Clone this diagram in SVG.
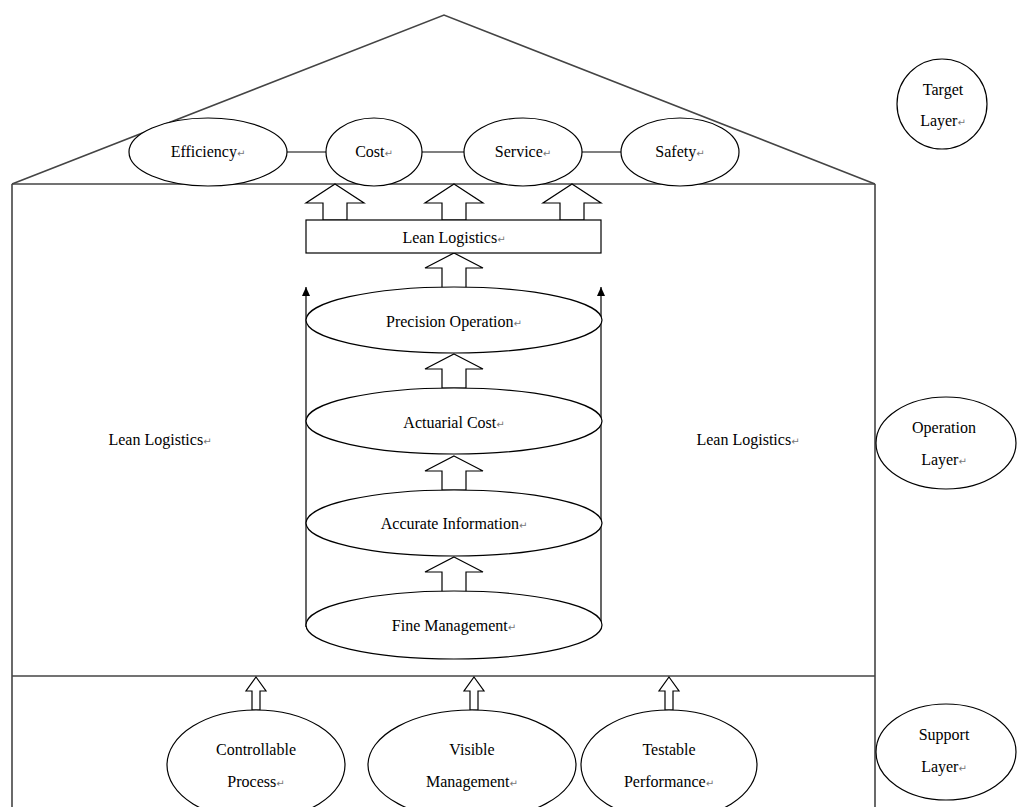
<svg xmlns="http://www.w3.org/2000/svg" width="1017" height="807" viewBox="0 0 1017 807">
<style>
.frame{fill:none;stroke:#444;stroke-width:1.6}
.sh{fill:#fff;stroke:#000;stroke-width:1.2}
.ln{fill:none;stroke:#000;stroke-width:1.2}
.ha{fill:#fff;stroke:#000;stroke-width:1.2;stroke-linejoin:miter}
.t{font-family:'Liberation Serif','DejaVu Serif',serif;font-size:16px;fill:#000;text-anchor:middle}
.r{fill:#777;font-family:'DejaVu Sans',sans-serif;font-size:10px}
</style>
<defs>
<marker id="ah" markerWidth="10" markerHeight="10" refX="9" refY="5" orient="auto" markerUnits="userSpaceOnUse">
<path d="M0,1 L9,5 L0,9 Z" fill="#000"/>
</marker>
</defs>
<rect width="1017" height="807" fill="#fff"/>
<g id="frame">
<polyline class="frame" points="12,184 444,15 875,184"/>
<line class="frame" x1="12" y1="184" x2="875" y2="184"/>
<line class="frame" x1="12" y1="184" x2="12" y2="807"/>
<line class="frame" x1="875" y1="184" x2="875" y2="807"/>
<line class="frame" x1="12" y1="676" x2="875" y2="676"/>
</g>
<g id="connectors">
<line class="ln" x1="287" y1="152" x2="327" y2="152"/>
<line class="ln" x1="422" y1="152" x2="464" y2="152"/>
<line class="ln" x1="582" y1="152" x2="621" y2="152"/>
<path class="ha" d="M335,184 L364,203 L347,203 L347,220 L323,220 L323,203 L306,203 Z"/>
<path class="ha" d="M454,184 L483,203 L466,203 L466,220 L442,220 L442,203 L425,203 Z"/>
<path class="ha" d="M572,184 L601,203 L584,203 L584,220 L560,220 L560,203 L543,203 Z"/>
<path class="ha" d="M454,253 L483,268 L466,268 L466,288 L442,288 L442,268 L425,268 Z"/>
<path class="ha" d="M454,354 L483,369 L466,369 L466,388 L442,388 L442,369 L425,369 Z"/>
<path class="ha" d="M454,456 L483,471 L466,471 L466,490 L442,490 L442,471 L425,471 Z"/>
<path class="ha" d="M454,557 L483,572 L466,572 L466,592 L442,592 L442,572 L425,572 Z"/>
<line class="ln" x1="306" y1="627" x2="306" y2="287" marker-end="url(#ah)"/>
<line class="ln" x1="601" y1="627" x2="601" y2="287" marker-end="url(#ah)"/>
<path class="ha" d="M256,677 L266,691 L260,691 L260,710 L252,710 L252,691 L246,691 Z"/>
<path class="ha" d="M474,677 L484,691 L478,691 L478,710 L470,710 L470,691 L464,691 Z"/>
<path class="ha" d="M669,677 L679,691 L673,691 L673,710 L665,710 L665,691 L659,691 Z"/>
</g>
<g id="efficiency"><ellipse class="sh" cx="208" cy="152" rx="79" ry="34"/><text class="t" x="208" y="157">Efficiency<tspan class="r">↵</tspan></text></g>
<g id="cost"><ellipse class="sh" cx="374" cy="152" rx="48" ry="34"/><text class="t" x="374" y="157">Cost<tspan class="r">↵</tspan></text></g>
<g id="service"><ellipse class="sh" cx="523" cy="152" rx="59" ry="34"/><text class="t" x="523" y="157">Service<tspan class="r">↵</tspan></text></g>
<g id="safety"><ellipse class="sh" cx="680" cy="152" rx="59" ry="34"/><text class="t" x="680" y="157">Safety<tspan class="r">↵</tspan></text></g>
<g id="lean-box"><rect class="sh" x="306" y="220" width="295" height="33"/><text class="t" x="454" y="243">Lean Logistics<tspan class="r">↵</tspan></text></g>
<g id="fine"><ellipse class="sh" cx="454" cy="625" rx="148" ry="34"/><text class="t" x="454" y="631">Fine Management<tspan class="r">↵</tspan></text></g>
<g id="accurate"><ellipse class="sh" cx="454" cy="523" rx="148" ry="33"/><text class="t" x="454" y="529">Accurate Information<tspan class="r">↵</tspan></text></g>
<g id="actuarial"><ellipse class="sh" cx="454" cy="421" rx="148" ry="33"/><text class="t" x="454" y="428">Actuarial Cost<tspan class="r">↵</tspan></text></g>
<g id="precision"><ellipse class="sh" cx="454" cy="320" rx="148" ry="33"/><text class="t" x="454" y="327">Precision Operation<tspan class="r">↵</tspan></text></g>
<g id="lean-left"><text class="t" x="160" y="445">Lean Logistics<tspan class="r">↵</tspan></text></g>
<g id="lean-right"><text class="t" x="748" y="445">Lean Logistics<tspan class="r">↵</tspan></text></g>
<g id="controllable"><ellipse class="sh" cx="256" cy="765" rx="89" ry="55"/><text class="t" x="256" y="755">Controllable</text><text class="t" x="256" y="787">Process<tspan class="r">↵</tspan></text></g>
<g id="visible"><ellipse class="sh" cx="472" cy="765" rx="104" ry="55"/><text class="t" x="472" y="755">Visible</text><text class="t" x="472" y="787">Management<tspan class="r">↵</tspan></text></g>
<g id="testable"><ellipse class="sh" cx="669" cy="765" rx="88" ry="55"/><text class="t" x="669" y="755">Testable</text><text class="t" x="669" y="787">Performance<tspan class="r">↵</tspan></text></g>
<g id="target-layer"><ellipse class="sh" cx="942" cy="104" rx="45" ry="45"/><text class="t" x="943" y="95">Target</text><text class="t" x="943" y="126">Layer<tspan class="r">↵</tspan></text></g>
<g id="operation-layer"><ellipse class="sh" cx="946" cy="443" rx="70" ry="46"/><text class="t" x="944" y="433">Operation</text><text class="t" x="944" y="465">Layer<tspan class="r">↵</tspan></text></g>
<g id="support-layer"><ellipse class="sh" cx="946" cy="752" rx="70" ry="48"/><text class="t" x="944" y="740">Support</text><text class="t" x="944" y="772">Layer<tspan class="r">↵</tspan></text></g>
</svg>
